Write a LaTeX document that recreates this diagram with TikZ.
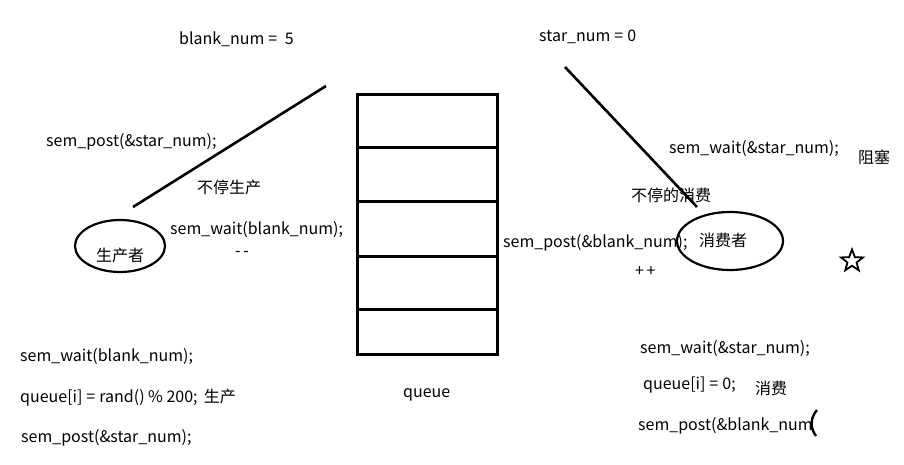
\documentclass[tikz,border=0pt]{standalone}
\usepackage{fontspec}
\setmainfont{Noto Sans CJK SC}
\usetikzlibrary{shapes.geometric}
\tikzset{
  lbl/.style={anchor=west,inner sep=0pt,yshift=-2pt,font=\fontsize{16}{18}\selectfont},
  thickline/.style={line width=2.6pt},
  box/.style={line width=3pt},
  ell/.style={draw,ellipse,line width=2.2pt,inner sep=0pt}
}
\newcommand{\eqsp}{\hspace{4pt}=\hspace{4pt}}
\begin{document}
\begin{tikzpicture}[x=1pt,y=-1pt]
\useasboundingbox (0,0) rectangle (904,465);
% queue
\draw[box] (357,95) rectangle (497,354);
\foreach \yy in {148,201,256,309} \draw[box] (357,\yy) -- (497,\yy);
\node[lbl] (q) at (403,393) {queue};
% top labels
\node[lbl] (bn) at (179,37) {blank\_num\eqsp\ 5};
\node[lbl] (sn) at (539,35) {star\_num\eqsp 0};
% lines
\coordinate (l1a) at (133,207); \coordinate (l1b) at (326,86);
\draw[thickline] (l1a) -- (l1b);
\coordinate (l2a) at (565,67); \coordinate (l2b) at (697,207);
\draw[thickline] (l2a) -- (l2b);
% producer
\node[ell,minimum width=90pt,minimum height=52pt] (p) at (120,246) {};
\node[lbl,anchor=center] (pt) at (120,253) {生产者};
\node[lbl] (a1) at (46,140) {sem\_post(\&star\_num);};
\node[lbl] (a2) at (197,185) {不停生产};
\node[lbl] (a3) at (170,228) {sem\_wait(blank\_num);};
\node[lbl] (a4) at (235,252) {-\,-};
% consumer
\node[ell,minimum width=106pt,minimum height=58pt] (c) at (730,241) {};
\node[lbl,anchor=center] (ct) at (723,238) {消费者};
\node[lbl] (b1) at (669,147) {sem\_wait(\&star\_num);};
\node[lbl] (b2) at (858,155) {阻塞};
\node[lbl] (b3) at (631,193) {不停的消费};
\node[lbl] (b4) at (503,241) {sem\_post(\&blank\_num);};
\node[lbl] (b5) at (635,270) {+\,+};
\node[star,star points=5,star point ratio=2.4,draw,line width=1.8pt,minimum size=23pt,inner sep=0pt] (st) at (852,261) {};
% bottom left
\node[lbl] (c1) at (20,355) {sem\_wait(blank\_num);};
\node[lbl] (c2) at (20,396) {queue[i]\eqsp rand() \% 200;\ \,生产};
\node[lbl] (c3) at (21,436) {sem\_post(\&star\_num);};
% bottom right
\node[lbl] (d1) at (640,347) {sem\_wait(\&star\_num);};
\node[lbl] (d2) at (643,383) {queue[i]\eqsp 0;};
\node[lbl] (d3) at (755,386) {消费};
\node[lbl] (d4) at (638,424) {sem\_post(\&blank\_num};
\draw[line width=2.4pt] (817,410) .. controls (810,418) and (810,428) .. (816,436);
\end{tikzpicture}
\end{document}
